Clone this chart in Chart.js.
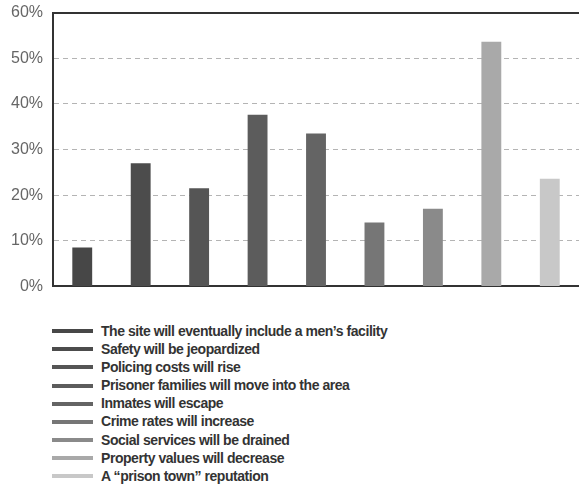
<!DOCTYPE html>
<html>
<head>
<meta charset="utf-8">
<script src="https://cdn.jsdelivr.net/npm/chart.js@4/dist/chart.umd.min.js"></script>
<style>
  body { margin: 0; background: #fff; width: 579px; height: 487px; overflow: hidden; }
  #wrap { position: absolute; left: 0; top: -7px; width: 579px; height: 313px; }
  #legend { position: absolute; left: 52px; top: 322px; margin: 0; padding: 0; list-style: none;
    font-family: "Liberation Sans Narrow", "Liberation Sans", Arial, sans-serif; font-stretch: condensed;
    font-weight: bold; font-size: 14px; letter-spacing: -0.45px; color: #333; }
  #legend li { height: 18.1px; line-height: 18.1px; white-space: nowrap; }
  #legend span.swatch { display: inline-block; width: 41px; height: 4px; vertical-align: middle;
    margin-right: 8px; position: relative; top: -1px; }
</style>
</head>
<body>
<div id="wrap"><canvas id="barchart"></canvas></div>
<ul id="legend"></ul>
<script>
// concerns raised about the site, share of respondents (%)
var concerns = [
  "The site will eventually include a men\u2019s facility",
  "Safety will be jeopardized",
  "Policing costs will rise",
  "Prisoner families will move into the area",
  "Inmates will escape",
  "Crime rates will increase",
  "Social services will be drained",
  "Property values will decrease",
  "A \u201cprison town\u201d reputation"
];
var shares = [8.5, 27, 21.5, 37.6, 33.5, 14, 17, 53.6, 23.6];
var shades = ["#474747", "#4c4c4c", "#555555", "#5c5c5c", "#646464", "#767676", "#8a8a8a", "#a9a9a9", "#c8c8c8"];
var yTicks = [0, 10, 20, 30, 40, 50, 60];

var ctx = document.getElementById("barchart").getContext('2d');
var chart = new Chart(ctx, {
  type: 'bar',
  data: {
    labels: concerns,
    datasets: [{
      data: shares,
      backgroundColor: shades,
      borderWidth: 0,
      barPercentage: 0.34,
      categoryPercentage: 1
    }]
  },
  options: {
    responsive: true,
    maintainAspectRatio: false,
    animation: false,
    layout: { padding: { top: 0, left: 1, right: 0, bottom: 0 } },
    plugins: {
      legend: { display: false },
      tooltip: { enabled: false }
    },
    scales: {
      x: {
        grid: { display: false, drawTicks: false },
        ticks: { display: false },
        border: { display: true, color: '#333', width: 2 }
      },
      y: {
        min: 0,
        max: 60,
        afterBuildTicks: function(axis) {
          axis.ticks = yTicks.map(function(v){ return { value: v }; });
        },
        ticks: {
          padding: 10,
          color: '#666',
          font: { family: 'Liberation Sans', size: 16 },
          callback: function(v){ return v + '%'; }
        },
        grid: {
          drawTicks: false,
          lineWidth: function(c){ return c.tick && c.tick.value === 60 ? 2 : 1; },
          color: function(c){ return c.tick && c.tick.value === 60 ? '#333' : '#b4b4b4'; }
        },
        border: {
          display: true,
          color: '#333',
          width: 2,
          dash: function(c){ return c.tick && c.tick.value === 60 ? [] : [5, 4]; }
        }
      }
    }
  }
});

// legend list below the chart
var legend = document.getElementById("legend");
for (var i = 0; i < concerns.length; i++) {
  var li = document.createElement("li");
  var swatch = document.createElement("span");
  swatch.className = 'swatch';
  swatch.style.backgroundColor = shades[i];
  li.appendChild(swatch);
  li.appendChild(document.createTextNode(concerns[i]));
  legend.appendChild(li);
}
</script>
</body>
</html>
